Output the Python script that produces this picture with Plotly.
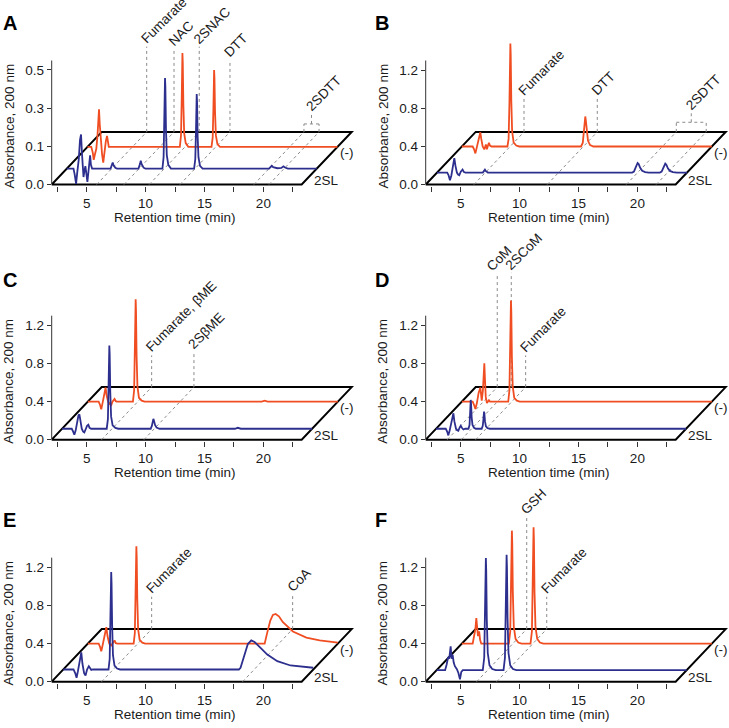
import plotly.graph_objects as go

# ---------------- data ----------------
panel_letters = ["A", "B", "C", "D", "E", "F"]
series_names = ["2SL", "(-)"]
x_tick_vals = [2.5, 5, 7.5, 10, 12.5, 15, 17.5, 20, 22.5]
x_tick_text = ["", "5", "", "10", "", "15", "", "20", ""]
y_tick_vals_A = [-0.1, 0.1, 0.3, 0.5]
y_tick_text_A = ["0.0", "0.1", "0.3", "0.5"]
y_tick_vals = [0, 0.4, 0.8, 1.2]
y_tick_text = ["0.0", "0.4", "0.8", "1.2"]

# Panel A
A_2SL_t = [2.03, 2.60, 2.70, 2.82, 2.92, 3.05, 3.15, 3.24, 3.32, 3.45, 3.53, 3.61, 3.70, 3.78, 3.88, 3.95, 4.01, 4.08, 4.18,
           5.75, 5.87, 5.93, 6.00, 6.15, 6.30,
           8.12, 8.25, 8.31, 8.38, 8.55, 8.70,
           10.15, 10.25, 10.31, 10.35, 10.37, 10.40, 10.45, 10.52, 10.65, 10.87,
           12.84, 12.94, 13.00, 13.04, 13.06, 13.09, 13.14, 13.21, 13.34, 13.56,
           19.20, 19.35, 19.43, 19.55, 19.90, 20.25, 20.42, 20.55, 20.80, 23.25]
A_2SL_v = [0, 0, -0.030, -0.080, -0.020, 0.050, 0.150, 0.179, 0.080, -0.044, -0.010, 0.013, -0.030, -0.070, -0.010, 0.050, 0.070, 0.020, 0,
           0, 0.020, 0.032, 0.018, 0.004, 0,
           0, 0.025, 0.041, 0.024, 0.005, 0,
           0, 0.060, 0.240, 0.440, 0.474, 0.430, 0.210, 0.070, 0.020, 0,
           0, 0.050, 0.200, 0.360, 0.391, 0.350, 0.170, 0.060, 0.015, 0,
           0, 0.010, 0.015, 0.008, 0.002, 0.004, 0.012, 0.006, 0, 0]
A_neg_t = [2.03, 2.35, 2.48, 2.56, 2.66, 2.78, 2.88, 2.96, 3.01, 3.07, 3.16, 3.27, 3.37, 3.47, 3.59, 3.69, 3.77, 3.84,
           9.87, 9.97, 10.03, 10.07, 10.09, 10.12, 10.17, 10.24, 10.37, 10.59,
           12.56, 12.66, 12.72, 12.76, 12.78, 12.81, 12.86, 12.93, 13.06, 13.28, 23.25]
A_neg_v = [0, 0, -0.030, -0.068, -0.040, -0.010, 0.060, 0.160, 0.197, 0.120, 0.016, -0.040, -0.083, -0.020, 0.030, 0.057, 0.020, 0,
           0, 0.060, 0.250, 0.460, 0.492, 0.440, 0.220, 0.070, 0.020, 0,
           0, 0.050, 0.200, 0.370, 0.402, 0.360, 0.180, 0.060, 0.015, 0, 0]

# Panel B
B_2SL_t = [2.03, 2.90, 3.02, 3.13, 3.25, 3.38, 3.50, 3.60, 3.72, 3.82, 3.92, 4.05, 4.20, 4.32, 4.45,
           5.92, 6.03, 6.10, 6.18, 6.35,
           18.60, 18.75, 18.88, 18.98, 19.06, 19.15, 19.28, 19.45, 19.70, 20.00,
           20.95, 21.10, 21.23, 21.33, 21.41, 21.50, 21.63, 21.80, 22.05, 22.40, 23.25]
B_2SL_v = [0, 0, -0.030, -0.080, -0.030, 0.080, 0.153, 0.070, 0, -0.020, -0.028, 0.010, 0.031, 0.005, 0,
           0, 0.020, 0.031, 0.015, 0,
           0, 0.010, 0.050, 0.090, 0.101, 0.090, 0.050, 0.020, 0.006, 0,
           0, 0.010, 0.050, 0.085, 0.094, 0.083, 0.045, 0.018, 0.005, 0, 0]
B_neg_t = [2.03, 2.95, 3.07, 3.18, 3.28, 3.42, 3.52, 3.60, 3.68, 3.80, 3.94, 4.01, 4.07, 4.12, 4.16, 4.25, 4.33, 4.42, 4.55,
           5.90, 6.00, 6.07, 6.12, 6.15, 6.18, 6.23, 6.30, 6.43, 6.65, 6.90,
           12.15, 12.30, 12.40, 12.46, 12.51, 12.56, 12.63, 12.74, 12.92, 13.20, 23.25]
B_neg_v = [0, 0, -0.030, -0.073, -0.020, 0.060, 0.130, 0.149, 0.080, 0, -0.031, 0, 0.020, 0, -0.030, 0.010, 0.038, 0.010, 0,
           0, 0.080, 0.450, 0.950, 1.083, 0.970, 0.480, 0.160, 0.040, 0.010, 0,
           0, 0.040, 0.150, 0.270, 0.316, 0.270, 0.150, 0.060, 0.015, 0, 0]

# Panel C
C_2SL_t = [2.03, 2.85, 2.97, 3.07, 3.18, 3.32, 3.42, 3.50, 3.58, 3.70, 3.82, 3.92, 4.05, 4.15, 4.26, 4.36, 4.50,
           5.82, 5.92, 5.98, 6.02, 6.04, 6.07, 6.12, 6.19, 6.32, 6.55, 6.80,
           9.55, 9.65, 9.72, 9.78, 9.84, 9.92, 10.05, 10.30,
           16.70, 16.94, 17.20, 23.25]
C_2SL_v = [0, 0, -0.030, -0.063, -0.020, 0.080, 0.140, 0.152, 0.080, 0, -0.030, -0.039, 0, 0.030, 0.042, 0.010, 0,
           0, 0.100, 0.440, 0.820, 0.877, 0.790, 0.390, 0.130, 0.035, 0.008, 0,
           0, 0.030, 0.080, 0.104, 0.080, 0.040, 0.012, 0,
           0, 0.010, 0, 0]
C_neg_t = [2.03, 2.95, 3.07, 3.17, 3.27, 3.40, 3.48, 3.54, 3.62, 3.75, 3.90, 4.02, 4.12, 4.20, 4.30, 4.40, 4.50,
           5.86, 5.96, 6.02, 6.07, 6.09, 6.12, 6.17, 6.24, 6.37, 6.60, 6.85,
           16.80, 17.04, 17.30, 23.25]
C_neg_v = [0, 0, -0.035, -0.080, -0.020, 0.080, 0.140, 0.149, 0.070, 0, -0.025, -0.035, 0, 0.020, 0.028, 0.005, 0,
           0, 0.120, 0.550, 1.000, 1.078, 0.960, 0.480, 0.160, 0.040, 0.010, 0,
           0, 0.010, 0, 0]

# Panel D
D_2SL_t = [2.03, 2.85, 2.97, 3.07, 3.18, 3.32, 3.43, 3.50, 3.58, 3.72, 3.82, 3.92, 4.02, 4.12, 4.22, 4.35, 4.50,
           4.78, 4.87, 4.92, 4.95, 4.97, 5.00, 5.05, 5.12, 5.25, 5.40,
           5.90, 5.99, 6.05, 6.08, 6.10, 6.13, 6.18, 6.26, 6.40, 6.60, 23.25]
D_2SL_v = [0, 0, -0.030, -0.070, -0.020, 0.080, 0.150, 0.163, 0.080, 0, -0.015, -0.021, 0.010, 0.031, 0.010, -0.008, 0,
           0, 0.040, 0.150, 0.270, 0.303, 0.260, 0.120, 0.040, 0.010, 0,
           0, 0.030, 0.100, 0.160, 0.181, 0.160, 0.080, 0.025, 0.005, 0, 0]
D_neg_t = [2.03, 2.95, 3.07, 3.18, 3.30, 3.45, 3.60, 3.72, 3.82, 3.88, 3.94, 3.99, 4.06, 4.16, 4.25, 4.33, 4.42, 4.55,
           5.97, 6.07, 6.13, 6.18, 6.20, 6.23, 6.28, 6.35, 6.48, 6.70, 6.95, 23.25]
D_neg_v = [0, 0, -0.035, -0.077, -0.020, 0.090, 0.149, 0.010, 0.120, 0.300, 0.403, 0.250, 0.050, -0.015, 0.005, 0.015, 0, 0,
           0, 0.120, 0.550, 0.990, 1.065, 0.950, 0.470, 0.160, 0.040, 0.010, 0, 0]

# Panel E
E_2SL_t = [2.03, 2.90, 3.05, 3.16, 3.27, 3.42, 3.56, 3.66, 3.80, 3.92, 4.05, 4.20, 4.30, 4.41, 4.55,
           5.87, 5.97, 6.03, 6.08, 6.10, 6.13, 6.18, 6.25, 6.38, 6.60, 6.85,
           16.94, 17.08, 17.25, 17.42, 17.70, 17.99, 18.27, 18.78, 19.35, 20.20, 21.32, 23.25]
E_2SL_v = [0, 0, -0.040, -0.087, -0.020, 0.100, 0.181, 0.060, -0.040, -0.063, 0, 0.035, 0.010, -0.005, 0,
           0, 0.110, 0.520, 0.960, 1.026, 0.910, 0.460, 0.150, 0.040, 0.010, 0,
           0, 0.018, 0.080, 0.157, 0.268, 0.306, 0.289, 0.227, 0.157, 0.087, 0.042, 0.018]
E_neg_t = [2.03, 2.95, 3.07, 3.17, 3.28, 3.45, 3.60, 3.70, 3.85, 4.02, 4.15, 4.30, 4.40, 4.55,
           5.92, 6.02, 6.08, 6.13, 6.15, 6.18, 6.23, 6.30, 6.43, 6.65, 6.90,
           17.04, 17.27, 17.52, 17.74, 17.97, 18.25, 18.59, 19.44, 20.58, 21.71, 23.25]
E_neg_v = [0, 0, -0.035, -0.080, -0.020, 0.100, 0.173, 0.080, 0, -0.018, 0.010, 0.034, 0.005, 0,
           0, 0.110, 0.520, 0.960, 1.026, 0.910, 0.460, 0.150, 0.040, 0.010, 0,
           0, 0.121, 0.243, 0.303, 0.313, 0.288, 0.226, 0.128, 0.063, 0.034, 0.010]

# Panel F
F_2SL_t = [2.03, 2.75, 2.88, 3.01, 3.10, 3.22, 3.30, 3.39, 3.48, 3.58, 3.75, 3.88, 4.01, 4.12, 4.25,
           5.95, 6.07, 6.14, 6.19, 6.21, 6.24, 6.29, 6.37, 6.52, 6.75, 7.05,
           7.71, 7.83, 7.90, 7.95, 7.97, 8.00, 8.05, 8.13, 8.28, 8.51, 8.80, 23.25]
F_2SL_v = [0, 0, 0.060, 0.140, 0.120, 0.251, 0.120, 0.160, 0.080, 0.042, 0.010, -0.030, -0.097, -0.020, 0,
           0, 0.130, 0.600, 1.100, 1.180, 1.050, 0.530, 0.180, 0.050, 0.012, 0,
           0, 0.130, 0.620, 1.130, 1.215, 1.080, 0.550, 0.180, 0.050, 0.012, 0, 0]
F_neg_t = [2.03, 2.95, 3.09, 3.18, 3.26, 3.33, 3.40, 3.50, 3.58, 3.68,
           6.02, 6.14, 6.21, 6.26, 6.28, 6.31, 6.36, 6.44, 6.59, 6.82, 7.10,
           7.86, 7.98, 8.05, 8.10, 8.12, 8.15, 8.20, 8.28, 8.43, 8.66, 8.95, 23.25]
F_neg_v = [0, 0, 0.094, 0.150, 0.268, 0.120, 0.080, 0.130, 0.040, 0,
           0, 0.130, 0.600, 1.110, 1.190, 1.060, 0.540, 0.180, 0.050, 0.012, 0,
           0, 0.130, 0.620, 1.150, 1.225, 1.090, 0.550, 0.180, 0.050, 0.012, 0, 0]

# Peak labels: text, retention time on the front axis, height where the leader ends
A_labels = ["Fumarate", "NAC", "2SNAC", "DTT"]
A_label_t = [5.85, 8.17, 10.31, 12.92]
A_label_top = [0.622, 0.606, 0.622, 0.549]
B_labels = ["Fumarate", "DTT"]
B_label_t = [6.13, 12.35]
B_label_top = [0.908, 0.908]
C_labels = ["Fumarate, βME", "2SβME"]
C_label_t = [6.27, 9.86]
C_label_top = [0.887, 0.922]
D_labels = ["CoM", "2SCoM", "Fumarate"]
D_label_t = [3.86, 5.05, 6.27]
D_label_top = [1.739, 1.757, 0.887]
E_labels = ["Fumarate", "CoA"]
E_label_t = [6.27, 18.24]
E_label_top = [0.894, 0.911]
F_labels = ["GSH", "Fumarate"]
F_label_t = [6.36, 8.06]
F_label_top = [1.729, 0.894]
# bracketed label (2SDTT): two retention times, bracket height, label height
A_bracket = ("2SDTT", [19.20, 20.48], 0.217, 0.269)
B_bracket = ("2SDTT", [19.06, 21.60], 0.655, 0.749)

# ---------------- geometry / style ----------------
W, H = 729, 728
FONT = "Liberation Sans, Arial, Helvetica, sans-serif"
FS = 13.5
ORANGE = "#F04E22"
BLUE = "#2D2F8E"
TXT = "#1a1a1a"
COL_LEFT_PX = [51.7, 425.7]
COL_RIGHT_PX = [362.0, 729.0]
ROW_FRONT_PX = [186.0, 443.3, 687.3]
ROW_TOP_PX = [22.0, 262.0, 505.0]
PX_PER_MIN = 11.78
X_LEFT = 2.03
X_FLOOR_RIGHT = 23.25
DEPTH_DX_PX, DEPTH_DY_PX = 50.0, 53.0
AXIS_LINE_PX = 125.0
# extra horizontal nudge (px) of individual peak labels, per panel
LABEL_NUDGE = {3: [-5, 0, 0]}

panels = [
    dict(col=0, row=0, floor=-0.1, unit=0.2 / 38.5, off_b=0.083, off_o=0.197,
         ytv=y_tick_vals_A, ytt=y_tick_text_A, bt=A_2SL_t, bv=A_2SL_v, ot=A_neg_t, ov=A_neg_v,
         labels=A_labels, lt=A_label_t, ltop=A_label_top, bracket=A_bracket),
    dict(col=1, row=0, floor=0.0, unit=0.4 / 38.3, off_b=0.125, off_o=0.40,
         ytv=y_tick_vals, ytt=y_tick_text, bt=B_2SL_t, bv=B_2SL_v, ot=B_neg_t, ov=B_neg_v,
         labels=B_labels, lt=B_label_t, ltop=B_label_top, bracket=B_bracket),
    dict(col=0, row=1, floor=0.0, unit=0.4 / 38.3, off_b=0.115, off_o=0.40,
         ytv=y_tick_vals, ytt=y_tick_text, bt=C_2SL_t, bv=C_2SL_v, ot=C_neg_t, ov=C_neg_v,
         labels=C_labels, lt=C_label_t, ltop=C_label_top, bracket=None),
    dict(col=1, row=1, floor=0.0, unit=0.4 / 38.3, off_b=0.115, off_o=0.40,
         ytv=y_tick_vals, ytt=y_tick_text, bt=D_2SL_t, bv=D_2SL_v, ot=D_neg_t, ov=D_neg_v,
         labels=D_labels, lt=D_label_t, ltop=D_label_top, bracket=None),
    dict(col=0, row=2, floor=0.0, unit=0.4 / 38.3, off_b=0.128, off_o=0.40,
         ytv=y_tick_vals, ytt=y_tick_text, bt=E_2SL_t, bv=E_2SL_v, ot=E_neg_t, ov=E_neg_v,
         labels=E_labels, lt=E_label_t, ltop=E_label_top, bracket=None),
    dict(col=1, row=2, floor=0.0, unit=0.4 / 38.3, off_b=0.121, off_o=0.40,
         ytv=y_tick_vals, ytt=y_tick_text, bt=F_2SL_t, bv=F_2SL_v, ot=F_neg_t, ov=F_neg_v,
         labels=F_labels, lt=F_label_t, ltop=F_label_top, bracket=None),
]

fig = go.Figure()
shapes = []
annotations = []
layout = {}

def px_x(px):
    return px / W

def px_y(py):
    return 1 - py / H

DOT = dict(color="#8a8a8a", width=1, dash="dot")

def peak_label(xa, ya, x, y, txt, nudge=0):
    return dict(xref=xa, yref=ya, x=x, y=y, text=txt, showarrow=False,
                textangle=-45, xanchor="left", yanchor="bottom", xshift=-10 + nudge, yshift=-1,
                borderpad=0, font=dict(size=FS, color=TXT, family=FONT))

for i, p in enumerate(panels):
    n = i + 1
    xa = "x" if n == 1 else f"x{n}"
    ya = "y" if n == 1 else f"y{n}"
    xkey = "xaxis" if n == 1 else f"xaxis{n}"
    ykey = "yaxis" if n == 1 else f"yaxis{n}"
    lpx, rpx = COL_LEFT_PX[p["col"]], COL_RIGHT_PX[p["col"]]
    fpx, tpx = ROW_FRONT_PX[p["row"]], ROW_TOP_PX[p["row"]]
    unit, floor = p["unit"], p["floor"]
    DX = DEPTH_DX_PX / PX_PER_MIN
    DY = DEPTH_DY_PX * unit

    layout[xkey] = dict(
        domain=[px_x(lpx), px_x(rpx)], anchor=ya,
        range=[X_LEFT, X_LEFT + (rpx - lpx) / PX_PER_MIN],
        tickmode="array", tickvals=x_tick_vals, ticktext=x_tick_text,
        ticks="outside", ticklen=5, tickwidth=1, tickcolor="#333",
        tickfont=dict(size=FS, color=TXT, family=FONT),
        showline=False, showgrid=False, zeroline=False,
    )
    layout[ykey] = dict(
        domain=[px_y(fpx + 1.5), px_y(tpx)], anchor=xa,
        range=[floor - 1.5 * unit, floor + (fpx - tpx) * unit],
        tickmode="array", tickvals=p["ytv"], ticktext=p["ytt"],
        ticks="outside", ticklen=4, tickwidth=1, tickcolor="#333",
        tickfont=dict(size=FS, color=TXT, family=FONT),
        showline=False, showgrid=False, zeroline=False,
    )

    # traces: back (-) first, then front 2SL
    for t, v, off, col, name in [(p["ot"], p["ov"], p["off_o"], ORANGE, series_names[1]),
                                 (p["bt"], p["bv"], p["off_b"], BLUE, series_names[0])]:
        shift = off / DY * DX
        fig.add_trace(go.Scatter(
            x=[tt + shift for tt in t], y=[floor + off + vv for vv in v],
            mode="lines", line=dict(color=col, width=1.8), name=name,
            showlegend=False, xaxis=xa, yaxis=ya, hoverinfo="skip"))

    # floor parallelogram
    shapes.append(dict(
        type="path", xref=xa, yref=ya, layer="below",
        path=(f"M {X_LEFT},{floor} L {X_FLOOR_RIGHT},{floor} "
              f"L {X_FLOOR_RIGHT + DX},{floor + DY} L {X_LEFT + DX},{floor + DY} Z"),
        line=dict(color="black", width=2)))
    # y axis line
    shapes.append(dict(type="line", xref="paper", yref="paper",
                       x0=px_x(lpx), x1=px_x(lpx), y0=px_y(fpx), y1=px_y(fpx - AXIS_LINE_PX),
                       line=dict(color="#333", width=1)))

    # peak leaders and labels
    nudges = LABEL_NUDGE.get(i, [0] * len(p["labels"]))
    for txt, t, top, nd in zip(p["labels"], p["lt"], p["ltop"], nudges):
        shapes.append(dict(type="line", xref=xa, yref=ya, layer="below",
                           x0=t, y0=floor, x1=t + DX, y1=floor + DY, line=DOT))
        shapes.append(dict(type="line", xref=xa, yref=ya, layer="below",
                           x0=t + DX, y0=floor + DY, x1=t + DX, y1=top, line=DOT))
        annotations.append(peak_label(xa, ya, t + DX, top, txt, nd))
    if p["bracket"]:
        txt, ts, ybr, ytop = p["bracket"]
        for t in ts:
            shapes.append(dict(type="line", xref=xa, yref=ya, layer="below",
                               x0=t, y0=floor, x1=t + DX, y1=floor + DY, line=DOT))
            shapes.append(dict(type="line", xref=xa, yref=ya, layer="below",
                               x0=t + DX, y0=floor + DY, x1=t + DX, y1=ybr, line=DOT))
        shapes.append(dict(type="line", xref=xa, yref=ya, layer="below",
                           x0=ts[0] + DX, y0=ybr, x1=ts[1] + DX, y1=ybr, line=DOT))
        mid = (ts[0] + ts[1]) / 2 + DX
        shapes.append(dict(type="line", xref=xa, yref=ya, layer="below",
                           x0=mid, y0=ybr, x1=mid, y1=ytop, line=DOT))
        annotations.append(peak_label(xa, ya, mid, ytop, txt))

    # series labels at the right of the floor
    coff = lpx - COL_LEFT_PX[0]
    annotations.append(dict(xref="paper", yref="paper", x=px_x(347 + coff), y=px_y(fpx - 32),
                            text=series_names[1], showarrow=False, xanchor="center", yanchor="middle",
                            font=dict(size=FS, color=TXT, family=FONT)))
    annotations.append(dict(xref="paper", yref="paper", x=px_x(326.5 + coff), y=px_y(fpx - 4.5),
                            text=series_names[0], showarrow=False, xanchor="center", yanchor="middle",
                            font=dict(size=FS, color=TXT, family=FONT)))
    # axis titles
    annotations.append(dict(xref="paper", yref="paper", x=px_x(175 + coff), y=px_y(fpx + 33),
                            text="Retention time (min)", showarrow=False, xanchor="center", yanchor="middle",
                            font=dict(size=FS, color=TXT, family=FONT)))
    annotations.append(dict(xref="paper", yref="paper", x=px_x(9 + coff), y=px_y(fpx - 58.5),
                            text="Absorbance, 200 nm", showarrow=False, textangle=-90,
                            xanchor="center", yanchor="middle",
                            font=dict(size=FS, color=TXT, family=FONT)))
    # panel letter
    letter_top = [10, 269, 511][p["row"]]
    annotations.append(dict(xref="paper", yref="paper", x=px_x(1 + coff * 0.995), y=px_y(letter_top),
                            text=f"<b>{panel_letters[i]}</b>", showarrow=False,
                            xanchor="left", yanchor="top",
                            font=dict(size=20, color="black", family=FONT)))

fig.update_layout(
    width=W, height=H, margin=dict(l=0, r=0, t=0, b=0),
    paper_bgcolor="white", plot_bgcolor="white",
    showlegend=False, shapes=shapes, annotations=annotations,
    font=dict(family=FONT, size=FS, color=TXT),
    **layout)

fig.write_html(
    "out.html",
    config={"displayModeBar": False},
    post_script="document.body.style.margin='0px';document.body.style.overflow='hidden';",
)
